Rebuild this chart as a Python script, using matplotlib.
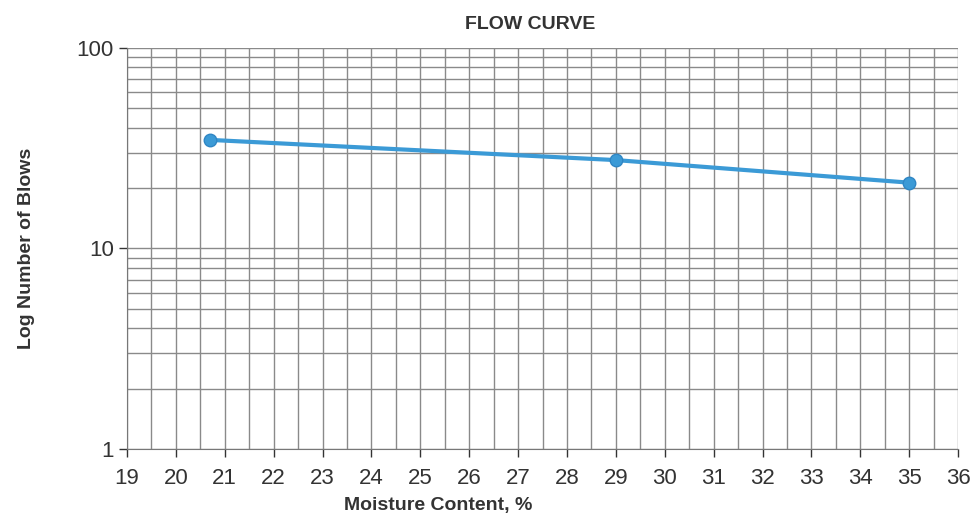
import matplotlib.pyplot as plt
from matplotlib.ticker import NullFormatter, LogLocator

plt.rcParams["font.family"] = ["Liberation Sans", "DejaVu Sans"]

moisture = [20.7, 29.0, 35.0]
blows = [34.8, 27.6, 21.3]
x_ticks = list(range(19, 37))
y_ticks = [1, 10, 100]

fig = plt.figure(figsize=(9.72, 5.15), dpi=100)
ax = fig.add_axes([0.1307, 0.1282, 0.855, 0.7786])

ax.set_yscale("log")
ax.set_xlim(19, 36)
ax.set_ylim(1, 100)

ax.set_xticks(x_ticks)
ax.set_xticks([x + 0.5 for x in x_ticks[:-1]], minor=True)
ax.set_yticks(y_ticks)
ax.set_yticklabels([str(v) for v in y_ticks])
ax.yaxis.set_minor_locator(LogLocator(base=10, subs=range(2, 10)))
ax.yaxis.set_minor_formatter(NullFormatter())

ax.grid(True, which="both", color="#8a8a8a", linewidth=1.0)
ax.set_axisbelow(True)
for side in ["top", "right"]:
    ax.spines[side].set_visible(False)
ax.spines["left"].set_color("#777777")
ax.spines["bottom"].set_color("#777777")

ax.tick_params(axis="both", which="major", labelsize=16, colors="#333333", length=6, width=1)
ax.tick_params(axis="x", which="major", pad=8)
ax.tick_params(axis="both", which="minor", length=0)

ax.plot(moisture, blows, color="#3b9ad6", linewidth=3, marker="o", markersize=9,
        markerfacecolor="#3b9ad6", markeredgecolor="#2f86c4")

ax.set_title("FLOW CURVE", fontsize=14, fontweight="bold", color="#333333", pad=14, x=0.485)
ax.set_xlabel("Moisture Content, %", fontsize=14, fontweight="bold", color="#333333")
ax.xaxis.set_label_coords(0.374, -0.12)
ax.set_ylabel("Log Number of Blows", fontsize=14, fontweight="bold", color="#333333", labelpad=30)

fig.savefig("out.png", dpi=100)
